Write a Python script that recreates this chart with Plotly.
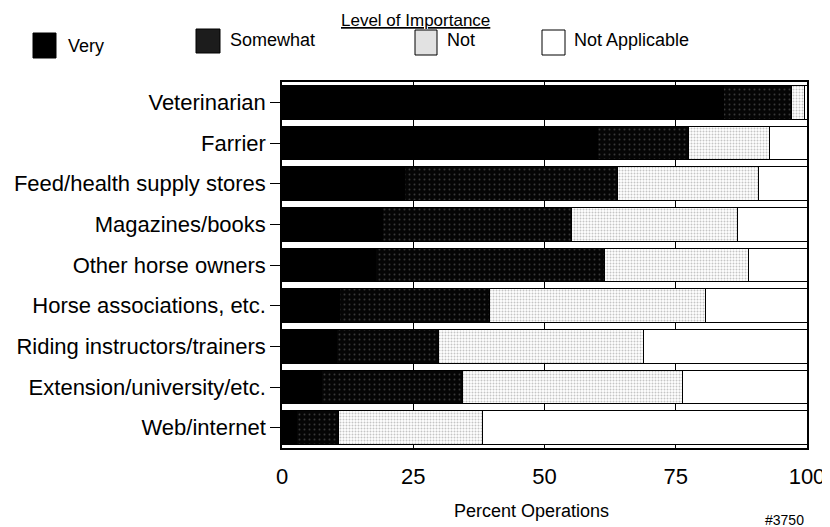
import plotly.graph_objects as go

# Categories, top to bottom
SOURCES = [
    "Veterinarian", "Farrier", "Feed/health supply stores", "Magazines/books",
    "Other horse owners", "Horse associations, etc.", "Riding instructors/trainers",
    "Extension/university/etc.", "Web/internet",
]
VERY = [84.0, 60.0, 23.4, 19.2, 17.9, 11.0, 10.4, 7.6, 2.7]
SOMEWHAT = [13.0, 17.4, 40.5, 36.0, 43.6, 28.6, 19.4, 26.7, 8.1]
NOT = [2.5, 15.4, 26.8, 31.5, 27.3, 41.0, 39.0, 42.0, 27.3]
NOT_APPLICABLE = [0.5, 7.2, 9.3, 13.3, 11.2, 19.4, 31.2, 23.7, 61.9]

X_TICKS = [0, 25, 50, 75, 100]

FONT = "Liberation Sans, Arial, sans-serif"

# page is drawn with an 8px body margin, so the figure is 8px smaller
W, H = 822, 519
ML, MR, MT, MB = 274, 23, 74, 79
PW, PH = W - ML - MR, H - MT - MB


def px(x):  # page pixel -> paper x
    return (x - 8 - ML) / PW


def py(y):  # page pixel -> paper y
    return (H + 8 - MB - y) / PH


SERIES = [
    ("Very", VERY, dict(color="#000000")),
    ("Somewhat", SOMEWHAT, dict(color="#0a0a0a",
                                pattern=dict(shape=".", fgcolor="#6a6a6a", bgcolor="#050505",
                                             size=5, solidity=0.12))),
    ("Not", NOT, dict(color="#ffffff",
                      pattern=dict(shape=".", fgcolor="#8c8c8c", bgcolor="#ffffff",
                                   size=3, solidity=0.35))),
    ("Not Applicable", NOT_APPLICABLE, dict(color="#ffffff")),
]

fig = go.Figure()
for name, vals, marker in SERIES:
    fig.add_trace(go.Bar(
        y=SOURCES, x=vals, name=name, orientation="h",
        marker=dict(line=dict(color="#000000", width=1), **marker),
        showlegend=False,
    ))

# hand-drawn legend, like the original
legend_items = [
    ("Very", (33, 56, 33, 58), (66, 46), "#000000"),
    ("Somewhat", (196, 220, 29, 53), (228, 40), "#1c1c1c"),
    ("Not", (415, 437, 30, 55), (445, 40), "#e2e2e2"),
    ("Not Applicable", (542, 565, 30, 55), (572, 40), "#ffffff"),
]
for label, (x0, x1, y0, y1), (tx, ty), col in legend_items:
    fig.add_shape(type="rect", xref="paper", yref="paper",
                  x0=px(x0), x1=px(x1), y0=py(y1), y1=py(y0),
                  fillcolor=col, line=dict(color="#000000", width=1))
    fig.add_annotation(text=label, xref="paper", yref="paper", showarrow=False,
                       x=px(tx), y=py(ty), xanchor="left", yanchor="middle",
                       font=dict(size=18, family=FONT, color="#000000"))

fig.add_annotation(text="<u>Level of Importance</u>", xref="paper", yref="paper",
                   showarrow=False, x=px(415), y=py(20),
                   xanchor="center", yanchor="middle",
                   font=dict(size=17, family=FONT, color="#000000"))
fig.add_annotation(text="Percent Operations", xref="paper", yref="paper",
                   showarrow=False, x=px(531), y=py(511),
                   xanchor="center", yanchor="middle",
                   font=dict(size=18, family=FONT, color="#000000"))
fig.add_annotation(text="#3750", xref="paper", yref="paper", showarrow=False,
                   x=px(806), y=py(520), xanchor="right", yanchor="middle",
                   font=dict(size=14, family=FONT, color="#000000"))

fig.update_layout(
    barmode="stack",
    bargap=0.18,
    width=W, height=H,
    margin=dict(l=ML, r=MR, t=MT, b=MB, autoexpand=False),
    paper_bgcolor="white", plot_bgcolor="white",
    font=dict(family=FONT, color="#000000"),
    xaxis=dict(
        range=[0, 100], tickvals=X_TICKS, ticks="", showgrid=True, automargin=False,
        gridcolor="#000000", gridwidth=1, zeroline=False,
        showline=True, linecolor="#000000", linewidth=1.5, mirror=True,
        tickfont=dict(size=22, family=FONT), ticklabelstandoff=8,
    ),
    yaxis=dict(
        categoryorder="array", categoryarray=SOURCES, autorange="reversed",
        ticks="outside", ticklen=10, tickcolor="#000000", automargin=False,
        showline=True, linecolor="#000000", linewidth=1.5, mirror=True,
        tickfont=dict(size=22, family=FONT), showgrid=False,
    ),
)

fig.write_html("out.html")
